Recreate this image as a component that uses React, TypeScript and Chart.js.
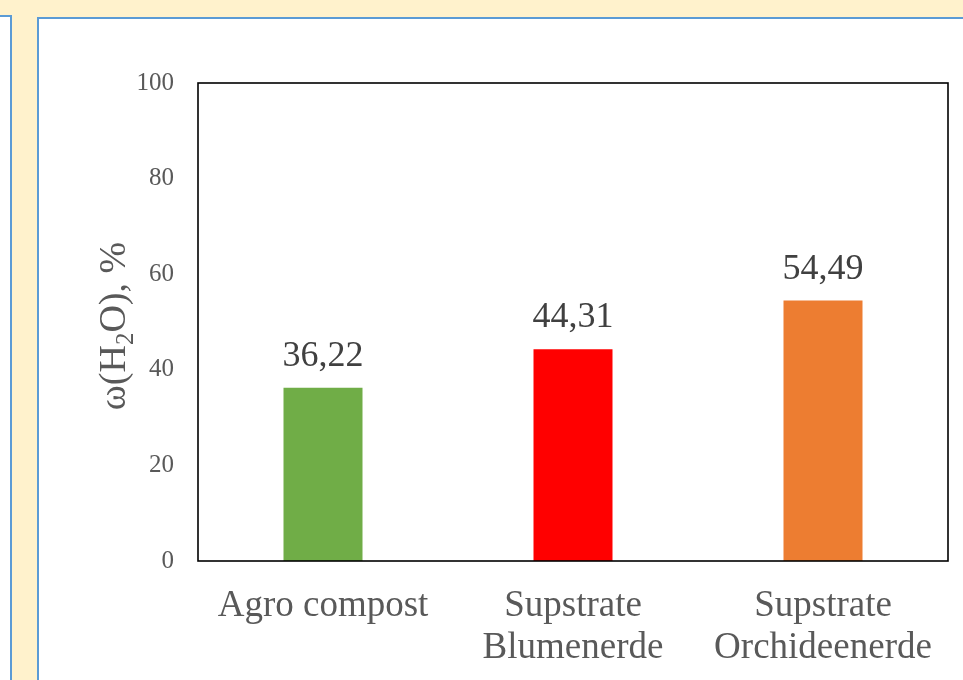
import React, { useEffect, useRef } from "react";
import { Chart, registerables } from "chart.js";

Chart.register(...registerables);

const categories: string[][] = [
  ["Agro compost"],
  ["Supstrate", "Blumenerde"],
  ["Supstrate", "Orchideenerde"],
];
const waterContent: number[] = [36.22, 44.31, 54.49];
const barColors: string[] = ["#70AD47", "#FF0000", "#ED7D31"];
const yTicks: number[] = [0, 20, 40, 60, 80, 100];

const SERIF = "'Liberation Serif', 'Times New Roman', serif";

// Draws the black frame around the plot area, the value labels and the rotated axis title
const decorations = {
  id: "decorations",
  afterDatasetsDraw(chart: any) {
    const { ctx, chartArea } = chart;
    ctx.save();
    ctx.strokeStyle = "#000000";
    ctx.lineWidth = 1.6;
    ctx.strokeRect(chartArea.left, chartArea.top, chartArea.right - chartArea.left, chartArea.bottom - chartArea.top);

    // value labels above bars
    const meta = chart.getDatasetMeta(0);
    ctx.fillStyle = "#404040";
    ctx.font = `36px ${SERIF}`;
    ctx.textAlign = "center";
    ctx.textBaseline = "alphabetic";
    meta.data.forEach((bar: any, i: number) => {
      const v = waterContent[i];
      ctx.fillText(v.toFixed(2).replace(".", ","), bar.x, bar.y - 22);
    });

    // y axis title with a subscript 2
    const cy = (chartArea.top + chartArea.bottom) / 2 + 4;
    ctx.translate(125, cy);
    ctx.rotate(-Math.PI / 2);
    ctx.fillStyle = "#595959";
    ctx.textBaseline = "alphabetic";
    ctx.textAlign = "left";
    const big = `38px ${SERIF}`;
    const small = `25px ${SERIF}`;
    const parts: [string, string, number][] = [
      ["ω(H", big, 0],
      ["2", small, 8],
      ["O), %", big, 0],
    ];
    let total = 0;
    parts.forEach(([t, f]) => {
      ctx.font = f;
      total += ctx.measureText(t).width;
    });
    let x = -total / 2;
    parts.forEach(([t, f, dy]) => {
      ctx.font = f;
      ctx.fillText(t, x, dy);
      x += ctx.measureText(t).width;
    });
    ctx.restore();
  },
};

function BarChart() {
  const ref = useRef<HTMLCanvasElement | null>(null);
  useEffect(() => {
    if (!ref.current) return;
    const chart = new Chart(ref.current, {
      type: "bar",
      data: {
        labels: categories,
        datasets: [
          {
            data: waterContent,
            backgroundColor: barColors,
            borderWidth: 0,
            categoryPercentage: 1,
            barPercentage: 0.316,
          },
        ],
      },
      options: {
        responsive: false,
        animation: false,
        layout: { padding: { top: 83, right: 15, left: 0, bottom: 0 } },
        plugins: { legend: { display: false }, tooltip: { enabled: false } },
        scales: {
          x: {
            grid: { display: false, drawTicks: false },
            border: { display: false },
            ticks: {
              color: "#595959",
              padding: 24,
              maxRotation: 0,
              font: { family: SERIF, size: 37, lineHeight: 1.14 },
            },
            afterFit: (s: any) => {
              s.height = 119;
            },
          },
          y: {
            min: 0,
            max: 100,
            grid: { display: false, drawTicks: false },
            border: { display: false },
            afterBuildTicks: (s: any) => {
              s.ticks = yTicks.map((v) => ({ value: v }));
            },
            ticks: {
              color: "#595959",
              padding: 24,
              font: { family: SERIF, size: 25 },
            },
            afterFit: (s: any) => {
              s.width = 198;
            },
          },
        },
      },
      plugins: [decorations],
    });
    return () => chart.destroy();
  }, []);
  return (
    <canvas
      ref={ref}
      width={963}
      height={680}
      style={{ position: "absolute", left: 0, top: 0, width: 963, height: 680, display: "block" }}
    />
  );
}

export default function App() {
  return (
    <div
      style={{
        position: "fixed",
        left: 0,
        top: 0,
        width: 963,
        height: 680,
        overflow: "hidden",
        background: "#FFF2CC",
      }}
    >
      <div
        style={{
          position: "absolute",
          left: -20,
          top: 15,
          width: 32,
          height: 700,
          boxSizing: "border-box",
          background: "#FFFFFF",
          border: "2px solid #5B9BD5",
        }}
      />
      <div
        style={{
          position: "absolute",
          left: 37,
          top: 17,
          width: 960,
          height: 700,
          boxSizing: "border-box",
          background: "#FFFFFF",
          border: "2px solid #5B9BD5",
        }}
      />
      <BarChart />
    </div>
  );
}
